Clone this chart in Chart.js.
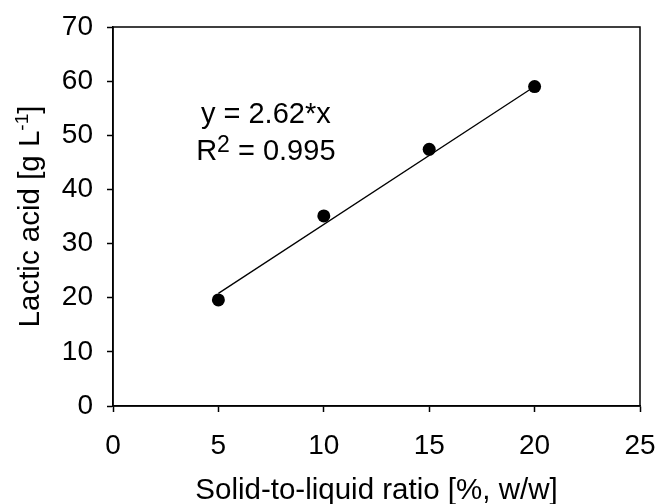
<!DOCTYPE html>
<html>
<head>
<meta charset="utf-8">
<script src="https://cdn.jsdelivr.net/npm/chart.js@4/dist/chart.umd.min.js"></script>
<style>
  html, body { margin: 0; padding: 0; background: #fff; }
  #wrap { width: 659px; height: 504px; }
</style>
</head>
<body>
<div id="wrap"><canvas id="lacticChart"></canvas></div>
<script>
// measured points
const ratio = [5, 10, 15, 20];
const lacticAcid = [19.6, 35.1, 47.4, 59.0];

// fitted line as drawn
const fitX = [5, 20];
const fitY = [20.8, 59.0];

const xTitle = "Solid-to-liquid ratio [%, w/w]";
const yTitle = "Lactic acid [g L";
const yTitleSup = "-1";
const yTitleEnd = "]";
const eqLine1 = "y = 2.62*x";
const eqLine2 = ["R", "2", " = 0.995"];

const FONT = "'Liberation Sans', Arial, sans-serif";

const frameAndText = {
  id: "frameAndText",
  afterDraw(chart) {
    const { ctx, chartArea, scales } = chart;
    ctx.save();
    ctx.strokeStyle = "#000";
    ctx.lineWidth = 1.5;
    ctx.strokeRect(chartArea.left, chartArea.top, chartArea.right - chartArea.left, chartArea.bottom - chartArea.top);

    ctx.fillStyle = "#000";
    ctx.textBaseline = "alphabetic";
    ctx.textAlign = "left";

    // y axis title with superscript
    const big = "29.5px " + FONT, small = "19px " + FONT;
    ctx.font = big;
    const w1 = ctx.measureText(yTitle).width;
    const w3 = ctx.measureText(yTitleEnd).width;
    ctx.font = small;
    const w2 = ctx.measureText(yTitleSup).width;
    const total = w1 + w2 + w3;
    ctx.save();
    ctx.translate(39, (chartArea.top + chartArea.bottom) / 2);
    ctx.rotate(-Math.PI / 2);
    let x0 = -total / 2;
    ctx.font = big;
    ctx.fillText(yTitle, x0, 0);
    ctx.font = small;
    ctx.fillText(yTitleSup, x0 + w1, -11);
    ctx.font = big;
    ctx.fillText(yTitleEnd, x0 + w1 + w2, 0);
    ctx.restore();

    // regression equation
    const cx = scales.x.getPixelForValue(7.25);
    const eqFont = "29px " + FONT, supFont = "23px " + FONT;
    ctx.font = eqFont;
    ctx.textAlign = "center";
    ctx.fillText(eqLine1, cx, scales.y.getPixelForValue(52.3));
    ctx.textAlign = "left";
    const a = ctx.measureText(eqLine2[0]).width;
    const c = ctx.measureText(eqLine2[2]).width;
    ctx.font = supFont;
    const b = ctx.measureText(eqLine2[1]).width;
    const by = scales.y.getPixelForValue(45.4);
    let sx = cx - (a + b + c) / 2;
    ctx.font = eqFont;
    ctx.fillText(eqLine2[0], sx, by);
    ctx.font = supFont;
    ctx.fillText(eqLine2[1], sx + a, by - 8);
    ctx.font = eqFont;
    ctx.fillText(eqLine2[2], sx + a + b, by);
    ctx.restore();
  }
};

const ctx = document.getElementById("lacticChart").getContext("2d");
new Chart(ctx, {
  type: "scatter",
  data: {
    datasets: [
      {
        label: "Fit",
        data: fitX.map((x, i) => ({ x: x, y: fitY[i] })),
        showLine: true,
        borderColor: "#000",
        borderWidth: 1.3,
        pointRadius: 0,
        fill: false
      },
      {
        label: "Lactic acid",
        data: ratio.map((x, i) => ({ x: x, y: lacticAcid[i] })),
        backgroundColor: "#000",
        borderColor: "#000",
        pointRadius: 6.5,
        pointBorderWidth: 0
      }
    ]
  },
  options: {
    responsive: true,
    maintainAspectRatio: false,
    animation: false,
    layout: { padding: { left: 0, right: 19, top: 27, bottom: 0 } },
    plugins: {
      legend: { display: false },
      tooltip: { enabled: false }
    },
    scales: {
      x: {
        type: "linear",
        min: 0,
        max: 25,
        ticks: { stepSize: 5, color: "#000", padding: 17, font: { family: FONT, size: 28 } },
        grid: { drawOnChartArea: false, drawTicks: true, tickLength: 6, tickColor: "#000", tickWidth: 1.5 },
        border: { color: "#000", width: 1.5 },
        title: {
          display: true,
          text: xTitle,
          color: "#000",
          padding: { top: 0, bottom: 0 },
          font: { family: FONT, size: 29.5, lineHeight: 0.92 }
        },
        afterFit(scale) {
          scale.height = 98;
          scale.paddingLeft = 0;
          scale.paddingRight = 0;
        }
      },
      y: {
        min: 0,
        max: 70,
        ticks: { stepSize: 10, color: "#000", padding: 14, font: { family: FONT, size: 28 } },
        grid: { drawOnChartArea: false, drawTicks: true, tickLength: 6, tickColor: "#000", tickWidth: 1.5 },
        border: { color: "#000", width: 1.5 },
        afterFit(scale) {
          scale.width = 113;
          scale.paddingTop = 0;
          scale.paddingBottom = 0;
        }
      }
    }
  },
  plugins: [frameAndText]
});
</script>
</body>
</html>
